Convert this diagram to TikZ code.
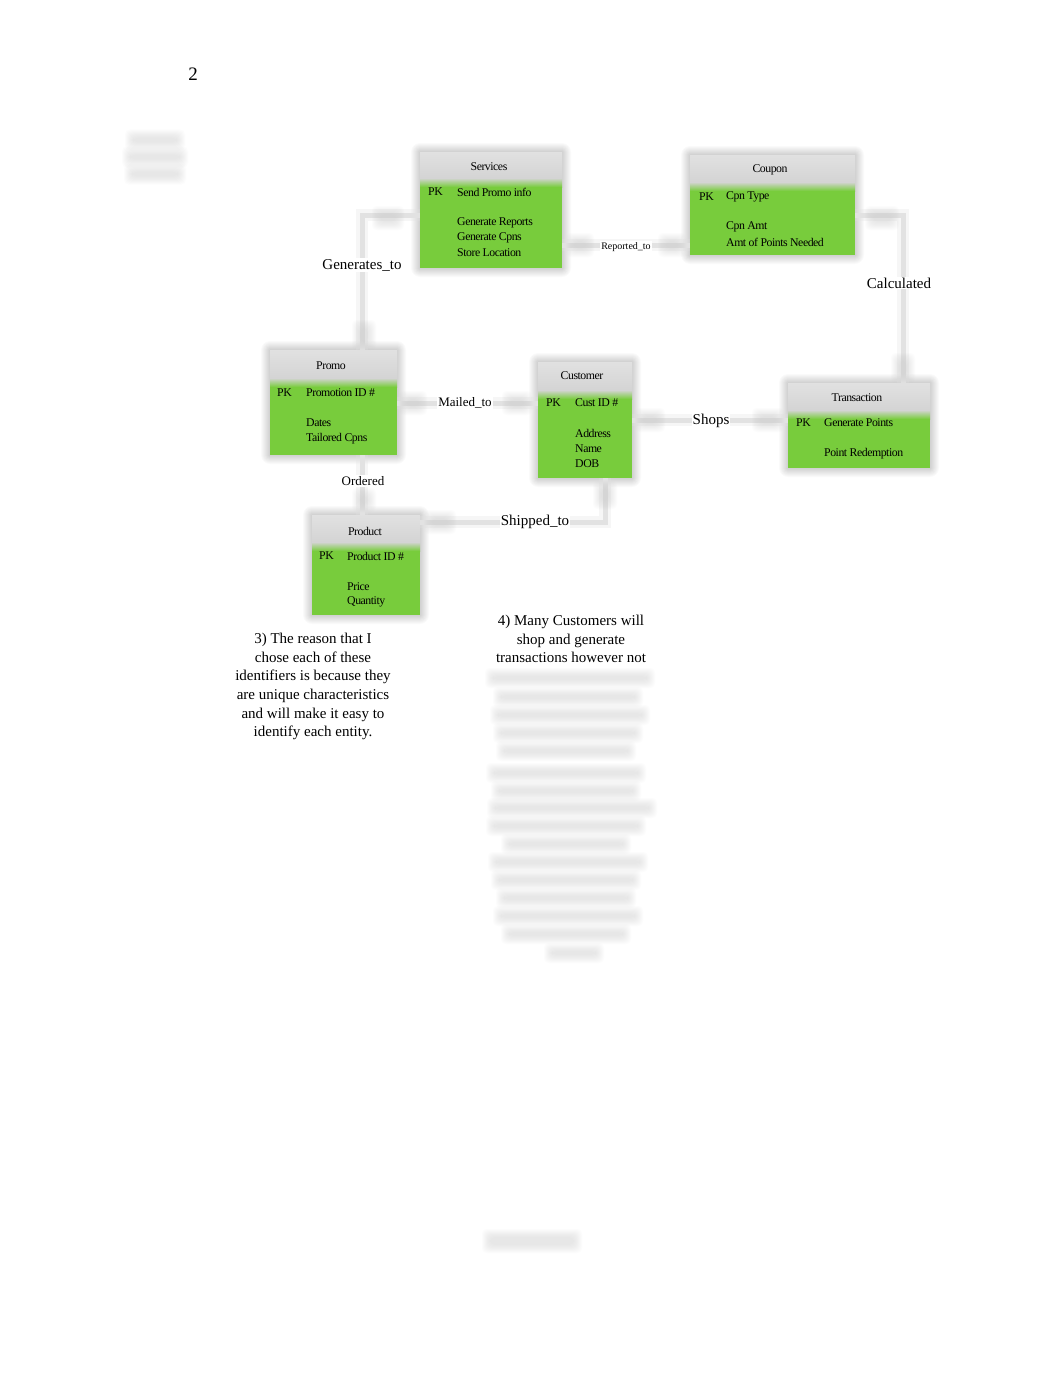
\documentclass[tikz,border=0pt]{standalone}
\usepackage{fontspec}
\setmainfont{Liberation Serif}
\newfontfamily\boxfont[LetterSpace=-4.0]{Liberation Serif}
\definecolor{entgreen}{RGB}{120,204,60}
\definecolor{enthead}{RGB}{212,212,212}
\definecolor{linkgray}{RGB}{226,226,226}
\definecolor{blurgray}{RGB}{200,200,200}
\tikzset{
  lbl/.style={font=\fontsize{15}{18}\selectfont, inner sep=1pt},
  slbl/.style={font=\fontsize{13}{15}\selectfont, inner sep=1pt},
  tlbl/.style={font=\fontsize{10}{12}\selectfont, inner sep=1pt},
  para/.style={font=\fontsize{15}{18.6}\selectfont, align=center, inner sep=0pt},
  attr/.style={font=\boxfont\fontsize{11.8}{13}\selectfont, inner sep=0pt, anchor=west},
  etitle/.style={font=\boxfont\fontsize{11.8}{13}\selectfont, inner sep=0pt},
  link/.style={draw=linkgray, line width=5pt},
  linkhalo/.style={draw=linkgray, line width=12pt, opacity=0.3},
  entbody/.style={fill=entgreen, inner sep=0pt},
}
\newcommand\erbox[6]{%
  \foreach \k in {1,...,9}{\fill[black, opacity=0.02, rounded corners=\k pt] ({#2-\k},{#3-\k}) rectangle ({#4+\k},{#5+\k});}
  \node[entbody, minimum width={#4-#2}, minimum height={#5-#3}] (#1) at ({(#2+#4)/2},{(#3+#5)/2}) {};
  \shade[top color=enthead!70!white, bottom color=enthead] (#2,#3) rectangle (#4,#6);
  \shade[top color=enthead, bottom color=entgreen] (#2,#6) rectangle (#4,{#6+9});
}
\newcommand\blob[4]{%
  \foreach \k in {-2,...,6}{\fill[blurgray, opacity=0.05, rounded corners=5pt] ({#1-#3/2-\k},{#2-#4/2-\k}) rectangle ({#1+#3/2+\k},{#2+#4/2+\k});}
}
\begin{document}
\begin{tikzpicture}[x=1pt, y=-1pt]
\useasboundingbox (0,0) rectangle (1062,1376);
\fill[white] (0,0) rectangle (1062,1376);

% page number
\node[font=\fontsize{19}{22}\selectfont, inner sep=0pt] (pagenum) at (193,74) {2};

% blurred header text at top left
\blob{155}{140}{48}{9}
\blob{155}{157}{54}{9}
\blob{155}{174}{50}{9}

% entities
\erbox{services}{420}{152}{562}{268}{178}
\erbox{coupon}{690}{155}{855}{255}{182}
\erbox{promo}{270}{350}{397}{455}{378}
\erbox{customer}{538}{362}{632}{478}{390}
\erbox{transaction}{788}{383}{930}{468}{410}
\erbox{product}{312}{515}{420}{615}{542}

% connectors
\coordinate (genbend) at (362,215);
\coordinate (calcbend) at (903,215);
\coordinate (shipbend) at (605,522);
\foreach \s in {linkhalo, link}{
  \draw[\s] (services.west |- genbend) -- (genbend) -- (genbend |- promo.north);
  \draw[\s] (services.east |- 0,245) -- (coupon.west |- 0,245);
  \draw[\s] (coupon.east |- calcbend) -- (calcbend) -- (calcbend |- transaction.north);
  \draw[\s] (promo.east |- 0,403) -- (customer.west |- 0,403);
  \draw[\s] (customer.east |- 0,420) -- (transaction.west |- 0,420);
  \draw[\s] (362,0 |- promo.south) -- (362,0 |- product.north);
  \draw[\s] (shipbend |- customer.south) -- (shipbend) -- (product.east |- shipbend);
}
% blurred relationship end markers
\blob{388}{218}{20}{12}
\blob{364}{335}{12}{18}
\blob{580}{245}{16}{12}
\blob{672}{245}{16}{12}
\blob{882}{218}{22}{12}
\blob{903}{368}{12}{18}
\blob{413}{403}{16}{12}
\blob{517}{403}{18}{12}
\blob{650}{420}{18}{12}
\blob{768}{420}{20}{12}
\blob{364}{500}{12}{12}
\blob{440}{522}{20}{12}
\blob{605}{495}{12}{16}

% relationship labels
\node[lbl, fill=white] (lgen) at (362,265) {Generates\_to};
\node[tlbl, fill=white] (lrep) at (626,247) {Reported\_to};
\node[lbl, fill=white] (lcalc) at (899,283) {Calculated};
\node[slbl, fill=white] (lmail) at (465,403) {Mailed\_to};
\node[lbl, fill=white] (lshops) at (711,421) {Shops};
\node[slbl, fill=white] (lord) at (363,481) {Ordered};
\node[lbl, fill=white] (lship) at (535,522) {Shipped\_to};

% entity texts
\node[etitle] (services-t) at (489,167) {Services};
\node[attr] (services-pk) at (428,192) {PK};
\node[attr] (services-a1) at (457,192) {Send Promo info};
\node[attr] (services-a2) at (457,223) {Generate Reports};
\node[attr] (services-a3) at (457,238) {Generate Cpns};
\node[attr] (services-a4) at (457,253) {Store Location};

\node[etitle] (coupon-t) at (770,170) {Coupon};
\node[attr] (coupon-pk) at (699,197) {PK};
\node[attr] (coupon-a1) at (726,197) {Cpn Type};
\node[attr] (coupon-a2) at (726,227) {Cpn Amt};
\node[attr] (coupon-a3) at (726,242) {Amt of Points Needed};

\node[etitle] (promo-t) at (331,366) {Promo};
\node[attr] (promo-pk) at (277,393) {PK};
\node[attr] (promo-a1) at (306,393) {Promotion ID \#};
\node[attr] (promo-a2) at (306,423) {Dates};
\node[attr] (promo-a3) at (306,439) {Tailored Cpns};

\node[etitle] (customer-t) at (582,376) {Customer};
\node[attr] (customer-pk) at (546,403) {PK};
\node[attr] (customer-a1) at (575,403) {Cust ID \#};
\node[attr] (customer-a2) at (575,433) {Address};
\node[attr] (customer-a3) at (575,449) {Name};
\node[attr] (customer-a4) at (575,464) {DOB};

\node[etitle] (transaction-t) at (857,398) {Transaction};
\node[attr] (transaction-pk) at (796,423) {PK};
\node[attr] (transaction-a1) at (824,423) {Generate Points};
\node[attr] (transaction-a2) at (824,454) {Point Redemption};

\node[etitle] (product-t) at (365,531) {Product};
\node[attr] (product-pk) at (319,556) {PK};
\node[attr] (product-a1) at (347,556) {Product ID \#};
\node[attr] (product-a2) at (347,587) {Price};
\node[attr] (product-a3) at (347,602) {Quantity};

% paragraphs
\node[para, anchor=north] (para3) at (313,633) {3) The reason that I\\chose each of these\\identifiers is because they\\are unique characteristics\\and will make it easy to\\identify each entity.};
\node[para, anchor=north] (para4) at (571,615) {4) Many Customers will\\shop and generate\\transactions however not};

% blurred continuation text
\blob{570}{678}{158}{8}
\blob{568}{697}{138}{8}
\blob{570}{715}{148}{8}
\blob{568}{733}{138}{8}
\blob{566}{751}{128}{8}
\blob{566}{773}{148}{8}
\blob{566}{791}{138}{8}
\blob{572}{808}{158}{8}
\blob{566}{826}{148}{8}
\blob{566}{844}{118}{8}
\blob{568}{862}{148}{8}
\blob{566}{880}{138}{8}
\blob{566}{898}{128}{8}
\blob{568}{916}{138}{8}
\blob{566}{934}{118}{8}
\blob{574}{953}{48}{8}

% blurred References heading
\blob{532}{1241}{88}{12}
\end{tikzpicture}
\end{document}
